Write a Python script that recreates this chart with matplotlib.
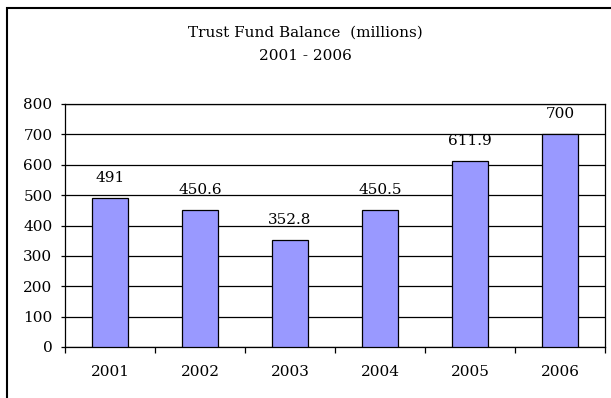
import matplotlib.pyplot as plt
from matplotlib.patches import Rectangle

years = ['2001', '2002', '2003', '2004', '2005', '2006']
balance = [491, 450.6, 352.8, 450.5, 611.9, 700]
labels = ['491', '450.6', '352.8', '450.5', '611.9', '700']

plt.rcParams['font.family'] = ['DejaVu Serif']
W, H = 611, 398

fig = plt.figure(figsize=(W/100, H/100), dpi=100)
ax = fig.add_axes([65/W, 1-347/H, (605-65)/W, (347-104)/H])

x = list(range(len(years)))
ax.bar(x, balance, width=0.41, color='#9999ff', edgecolor='black', linewidth=0.9, zorder=3)
for xi, v, s in zip(x, balance, labels):
    ax.annotate(s, (xi, v), xytext=(0, 11.5), textcoords='offset points',
                ha='center', va='baseline', fontsize=11)

ax.set_xlim(-0.5, len(years)-0.5)
ax.set_ylim(0, 800)
ax.set_yticks(range(0, 801, 100))
ax.tick_params(axis='y', labelsize=11, length=3, width=0.9, direction='out', pad=6)
ax.set_xticks(x)
ax.set_xticklabels(years)
ax.tick_params(axis='x', which='major', length=0, labelsize=11, pad=13)
ax.set_xticks([i - 0.5 for i in range(len(years) + 1)], minor=True)
ax.tick_params(axis='x', which='minor', length=4, width=0.9, direction='out')
ax.yaxis.grid(True, color='black', linewidth=0.9, zorder=0)
ax.set_axisbelow(True)
for sp in ax.spines.values():
    sp.set_linewidth(0.9)

fig.text(0.5, 1-37/H, 'Trust Fund Balance  (millions)', ha='center', va='baseline', fontsize=11)
fig.text(0.5, 1-60.5/H, '2001 - 2006', ha='center', va='baseline', fontsize=11)

# outer chart border (right/bottom edges fall outside the image)
fig.patches.append(Rectangle((7/W, -0.05), 1.1, 1-8/H + 0.05,
                             transform=fig.transFigure, fill=False,
                             edgecolor='black', linewidth=1.5))

fig.savefig('out.png', dpi=100)
